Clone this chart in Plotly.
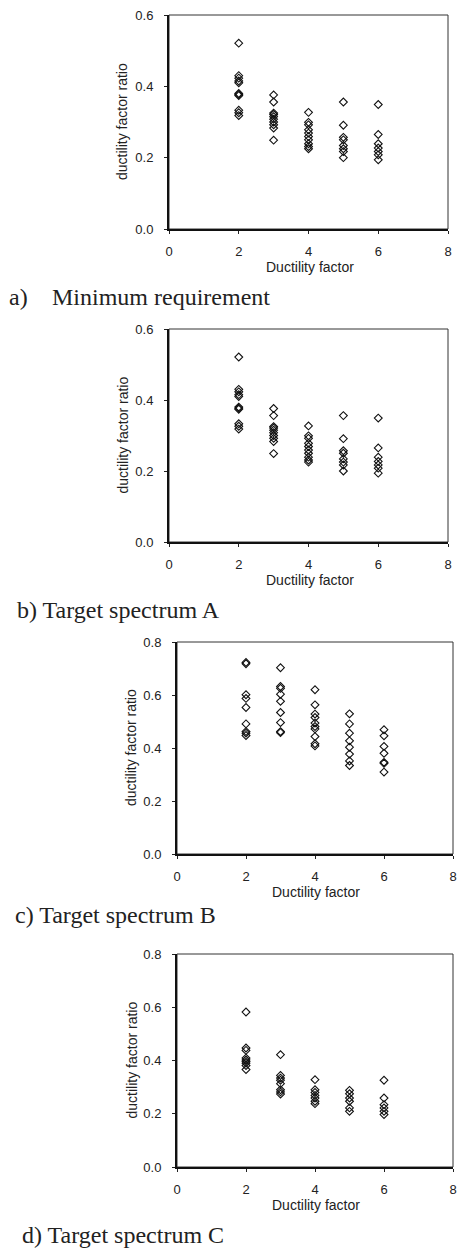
import plotly.graph_objects as go

# ---------------- data ----------------
min_req_x = [2]*11 + [3]*10 + [4]*10 + [5]*8 + [6]*7
min_req_y = [0.521, 0.430, 0.423, 0.415, 0.410, 0.380, 0.377, 0.374, 0.333, 0.326, 0.318,
             0.376, 0.356, 0.325, 0.321, 0.315, 0.308, 0.300, 0.292, 0.283, 0.249,
             0.327, 0.299, 0.292, 0.278, 0.269, 0.259, 0.250, 0.239, 0.231, 0.225,
             0.356, 0.291, 0.257, 0.250, 0.234, 0.225, 0.217, 0.200,
             0.349, 0.265, 0.239, 0.227, 0.217, 0.208, 0.194]

spec_a_x = list(min_req_x)
spec_a_y = list(min_req_y)

spec_b_x = [2]*9 + [3]*9 + [4]*10 + [5]*8 + [6]*7
spec_b_y = [0.723, 0.718, 0.601, 0.587, 0.553, 0.491, 0.462, 0.456, 0.447,
            0.703, 0.632, 0.625, 0.603, 0.576, 0.534, 0.496, 0.462, 0.458,
            0.620, 0.563, 0.528, 0.515, 0.494, 0.481, 0.472, 0.443, 0.416, 0.408,
            0.529, 0.491, 0.456, 0.427, 0.403, 0.377, 0.351, 0.334,
            0.469, 0.446, 0.406, 0.380, 0.346, 0.342, 0.309]

spec_c_x = [2]*9 + [3]*8 + [4]*7 + [5]*6 + [6]*6
spec_c_y = [0.582, 0.447, 0.438, 0.409, 0.402, 0.396, 0.390, 0.381, 0.366,
            0.422, 0.344, 0.334, 0.326, 0.313, 0.290, 0.282, 0.274,
            0.328, 0.290, 0.280, 0.269, 0.259, 0.247, 0.238,
            0.288, 0.275, 0.259, 0.247, 0.222, 0.209,
            0.326, 0.259, 0.234, 0.222, 0.209, 0.197]

x_ticks = [0, 2, 4, 6, 8]
y_ticks_small = [0.0, 0.2, 0.4, 0.6]
y_ticks_large = [0.0, 0.2, 0.4, 0.6, 0.8]
captions = ["Minimum requirement", "b) Target spectrum A", "c) Target spectrum B", "d) Target spectrum C"]
x_title = "Ductility factor"
y_title = "ductility factor ratio"

# ---------------- layout geometry (pixels) ----------------
W, H = 458, 1249
panels = [
    dict(x=min_req_x, y=min_req_y, l=169, r=448, t=15, b=229, ymax=0.6, yt=y_ticks_small),
    dict(x=spec_a_x, y=spec_a_y, l=169, r=448, t=329, b=542, ymax=0.6, yt=y_ticks_small),
    dict(x=spec_b_x, y=spec_b_y, l=177, r=453, t=642, b=854, ymax=0.8, yt=y_ticks_large),
    dict(x=spec_c_x, y=spec_c_y, l=177, r=453, t=954, b=1167, ymax=0.8, yt=y_ticks_large),
]

def px(v):
    return v / W

def py(v):
    return 1 - v / H

tick_font = dict(family="Liberation Sans, Arial, sans-serif", size=13, color="#222")
title_font = dict(family="Liberation Sans, Arial, sans-serif", size=14, color="#222")
cap_font = dict(family="Liberation Serif, Times New Roman, serif", size=24, color="#222")

fig = go.Figure()
layout = dict(width=W, height=H, margin=dict(l=0, r=0, t=0, b=0, autoexpand=False),
              paper_bgcolor="white", plot_bgcolor="white", showlegend=False)
shapes = []
annotations = []

for i, p in enumerate(panels):
    n = "" if i == 0 else str(i + 1)
    fig.add_trace(go.Scatter(
        x=p["x"], y=p["y"], mode="markers", xaxis="x" + n, yaxis="y" + n,
        marker=dict(symbol="diamond-open", size=6, color="#111", line=dict(width=1.1, color="#111")),
        cliponaxis=False))
    layout["xaxis" + n] = dict(
        domain=[px(p["l"]), px(p["r"])], range=[0, 8], anchor="y" + n,
        tickvals=x_ticks, ticktext=[str(v) for v in x_ticks],
        ticks="outside", ticklen=3, tickwidth=1, tickcolor="#222",
        showline=True, linewidth=2, linecolor="#111", showgrid=False, zeroline=False,
        tickfont=tick_font, ticklabelstandoff=6, fixedrange=True, automargin=False)
    layout["yaxis" + n] = dict(
        domain=[py(p["b"]), py(p["t"])], range=[0, p["ymax"]], anchor="x" + n,
        tickvals=p["yt"], ticktext=["%.1f" % v for v in p["yt"]],
        ticks="outside", ticklen=3, tickwidth=1, tickcolor="#222",
        showline=True, linewidth=2, linecolor="#111", showgrid=False, zeroline=False,
        tickfont=tick_font, ticklabelstandoff=8, fixedrange=True, automargin=False)
    # thin top/right frame
    shapes.append(dict(type="rect", xref="x" + n + " domain", yref="y" + n + " domain",
                       x0=0, x1=1, y0=0, y1=1, line=dict(color="#333", width=1), layer="below"))
    # axis titles
    annotations.append(dict(text=x_title, xref="paper", yref="paper",
                            x=px((p["l"] + p["r"]) / 2 + 1), y=py(p["b"] + 38),
                            xanchor="center", yanchor="middle", showarrow=False, font=title_font))
    annotations.append(dict(text=y_title, xref="paper", yref="paper", textangle=-90,
                            x=px(p["l"] - 47 + (1 if i >= 2 else 0)), y=py((p["t"] + p["b"]) / 2),
                            xanchor="center", yanchor="middle", showarrow=False, font=title_font))

# captions
annotations.append(dict(text="a)", xref="paper", yref="paper", x=px(7), y=py(297),
                        xanchor="left", yanchor="middle", showarrow=False, font=cap_font))
annotations.append(dict(text=captions[0], xref="paper", yref="paper", x=px(50), y=py(297),
                        xanchor="left", yanchor="middle", showarrow=False, font=cap_font))
cap_pos = [(15, 610), (13, 915), (20, 1235)]
for (cx, cy), txt in zip(cap_pos, captions[1:]):
    annotations.append(dict(text=txt, xref="paper", yref="paper", x=px(cx), y=py(cy),
                            xanchor="left", yanchor="middle", showarrow=False, font=cap_font))

layout["shapes"] = shapes
layout["annotations"] = annotations
layout["hovermode"] = False
fig.update_layout(**layout)
fig.write_html("out.html", config={"displayModeBar": False, "staticPlot": True},
               post_script="document.body.style.margin='0';document.body.style.overflow='hidden';")
